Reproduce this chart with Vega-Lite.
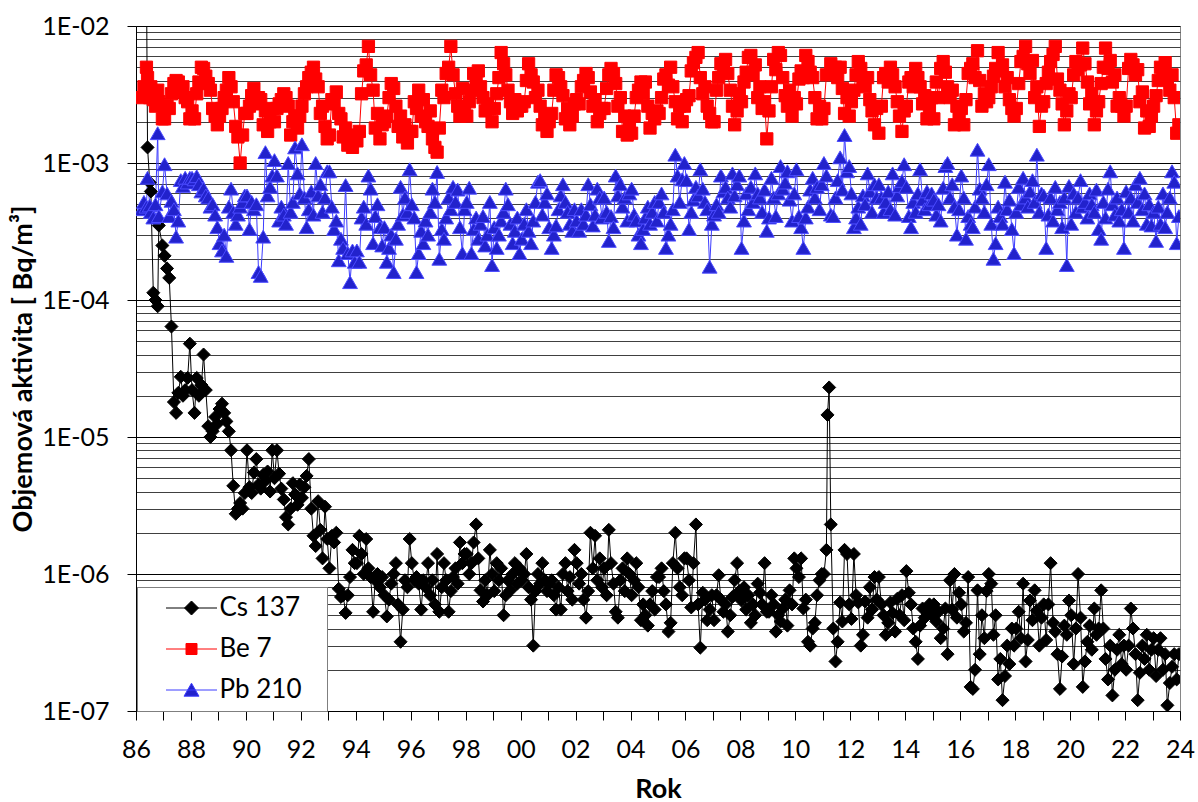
{
  "$schema": "https://vega.github.io/schema/vega-lite/v6.json",
  "width": 1044,
  "height": 685,
  "autosize": {"type": "none"},
  "padding": {"left": 136, "top": 26, "right": 18, "bottom": 91},
  "background": "white",
  "config": {"view": {"stroke": "#868686", "strokeWidth": 1}, "font": "Lato"},
  "data": {"values": [
    {"t":1986.21,"b":3.0e-3,"p":4.6e-4},
    {"t":1986.29,"b":3.6e-3,"p":5.2e-4},
    {"t":1986.38,"c":2.5e-2,"b":5.0e-3,"p":4.8e-4},
    {"t":1986.42,"c":1.3e-3,"b":4.2e-3,"p":7.8e-4},
    {"t":1986.5,"c":7.2e-4,"b":3.0e-3,"p":4.9e-4},
    {"t":1986.54,"c":6.2e-4,"b":3.6e-3,"p":4.4e-4},
    {"t":1986.63,"c":1.13e-4,"b":2.9e-3,"p":4.0e-4},
    {"t":1986.71,"c":1.0e-4,"b":2.6e-3,"p":5.0e-4},
    {"t":1986.79,"c":9.0e-5,"b":3.4e-3,"p":1.65e-3},
    {"t":1986.83,"c":3.5e-4,"b":2.8e-3,"p":4.1e-4},
    {"t":1986.96,"c":2.5e-4,"b":2.1e-3,"p":6.2e-4},
    {"t":1987.04,"c":2.1e-4,"b":2.1e-3,"p":9.8e-4},
    {"t":1987.13,"c":1.7e-4,"b":2.6e-3,"p":6.0e-4},
    {"t":1987.21,"c":1.45e-4,"b":2.5e-3,"p":4.1e-4},
    {"t":1987.29,"c":6.4e-5,"b":3.2e-3,"p":5.3e-4},
    {"t":1987.38,"c":1.8e-5,"b":3.8e-3,"p":4.6e-4},
    {"t":1987.46,"c":1.5e-5,"b":4.0e-3,"p":2.9e-4},
    {"t":1987.54,"c":2.1e-5,"b":3.9e-3,"p":3.8e-4},
    {"t":1987.63,"c":2.75e-5,"b":3.3e-3,"p":7.5e-4},
    {"t":1987.71,"c":2.0e-5,"b":3.6e-3,"p":6.8e-4},
    {"t":1987.79,"c":2.2e-5,"b":3.0e-3,"p":7.8e-4},
    {"t":1987.88,"c":2.7e-5,"b":2.8e-3,"p":7.2e-4},
    {"t":1987.96,"c":4.8e-5,"b":2.1e-3,"p":7.8e-4},
    {"t":1988.04,"c":2.2e-5,"b":2.4e-3,"p":7.8e-4},
    {"t":1988.13,"c":1.5e-5,"b":2.1e-3,"p":7.6e-4},
    {"t":1988.21,"c":2.7e-5,"b":3.2e-3,"p":8.0e-4},
    {"t":1988.29,"c":2.0e-5,"b":3.9e-3,"p":7.0e-4},
    {"t":1988.38,"c":2.4e-5,"b":5.0e-3,"p":6.2e-4},
    {"t":1988.46,"c":4.0e-5,"b":4.9e-3,"p":6.5e-4},
    {"t":1988.54,"c":2.2e-5,"b":4.3e-3,"p":5.8e-4},
    {"t":1988.63,"c":1.2e-5,"b":3.8e-3,"p":5.6e-4},
    {"t":1988.71,"c":1.0e-5,"b":3.4e-3,"p":4.8e-4},
    {"t":1988.79,"c":1.1e-5,"b":2.5e-3,"p":5.0e-4},
    {"t":1988.88,"c":1.4e-5,"b":2.2e-3,"p":4.2e-4},
    {"t":1988.96,"c":1.25e-5,"b":1.9e-3,"p":3.4e-4},
    {"t":1989.04,"c":1.6e-5,"b":2.2e-3,"p":2.6e-4},
    {"t":1989.13,"c":1.75e-5,"b":2.5e-3,"p":2.3e-4},
    {"t":1989.21,"c":1.5e-5,"b":3.0e-3,"p":3.0e-4},
    {"t":1989.29,"c":1.3e-5,"b":3.4e-3,"p":2.1e-4},
    {"t":1989.38,"c":1.1e-5,"b":4.2e-3,"p":4.8e-4},
    {"t":1989.46,"c":8.0e-6,"b":3.6e-3,"p":6.5e-4},
    {"t":1989.54,"c":4.4e-6,"b":2.8e-3,"p":4.4e-4},
    {"t":1989.63,"c":2.75e-6,"b":1.85e-3,"p":3.6e-4},
    {"t":1989.71,"c":3.0e-6,"b":1.55e-3,"p":4.2e-4},
    {"t":1989.79,"c":3.3e-6,"b":1.0e-3,"p":4.8e-4},
    {"t":1989.88,"c":3.0e-6,"b":1.6e-3,"p":5.2e-4},
    {"t":1989.96,"c":3.9e-6,"b":2.3e-3,"p":5.8e-4},
    {"t":1990.04,"c":8.0e-6,"b":2.3e-3,"p":5.8e-4},
    {"t":1990.13,"c":4.3e-6,"b":2.6e-3,"p":3.3e-4},
    {"t":1990.21,"c":3.9e-6,"b":3.1e-3,"p":5.2e-4},
    {"t":1990.29,"c":5.5e-6,"b":3.5e-3,"p":4.6e-4},
    {"t":1990.38,"c":6.9e-6,"b":2.7e-3,"p":5.0e-4},
    {"t":1990.46,"c":4.5e-6,"b":3.0e-3,"p":1.6e-4},
    {"t":1990.54,"c":4.2e-6,"b":2.9e-3,"p":1.5e-4},
    {"t":1990.63,"c":5.3e-6,"b":1.9e-3,"p":2.9e-4},
    {"t":1990.71,"c":4.8e-6,"b":2.4e-3,"p":1.2e-3},
    {"t":1990.79,"c":5.6e-6,"b":1.7e-3,"p":5.8e-4},
    {"t":1990.88,"c":4.0e-6,"b":2.0e-3,"p":6.7e-4},
    {"t":1990.96,"c":8.0e-6,"b":2.5e-3,"p":8.1e-4},
    {"t":1991.04,"c":5.0e-6,"b":2.0e-3,"p":1.05e-3},
    {"t":1991.13,"c":8.0e-6,"b":2.5e-3,"p":8.1e-4},
    {"t":1991.21,"c":5.4e-6,"b":2.7e-3,"p":3.8e-4},
    {"t":1991.29,"c":4.2e-6,"b":2.9e-3,"p":4.8e-4},
    {"t":1991.38,"c":3.5e-6,"b":3.2e-3,"p":4.2e-4},
    {"t":1991.46,"c":2.6e-6,"b":3.0e-3,"p":3.6e-4},
    {"t":1991.54,"c":2.3e-6,"b":2.6e-3,"p":1.0e-3},
    {"t":1991.63,"c":3.0e-6,"b":1.6e-3,"p":4.4e-4},
    {"t":1991.71,"c":4.6e-6,"b":2.0e-3,"p":5.2e-4},
    {"t":1991.79,"c":3.8e-6,"b":2.2e-3,"p":1.3e-3},
    {"t":1991.88,"c":3.2e-6,"b":1.8e-3,"p":8.4e-4},
    {"t":1991.96,"c":4.5e-6,"b":2.2e-3,"p":6.0e-4},
    {"t":1992.04,"c":3.6e-6,"b":2.6e-3,"p":1.37e-3},
    {"t":1992.13,"c":4.3e-6,"b":3.2e-3,"p":5.6e-4},
    {"t":1992.21,"c":5.2e-6,"b":3.6e-3,"p":3.4e-4},
    {"t":1992.29,"c":6.9e-6,"b":4.2e-3,"p":4.6e-4},
    {"t":1992.38,"c":3.0e-6,"b":4.6e-3,"p":6.2e-4},
    {"t":1992.46,"c":1.9e-6,"b":5.0e-3,"p":4.2e-4},
    {"t":1992.54,"c":1.6e-6,"b":4.1e-3,"p":1.0e-3},
    {"t":1992.63,"c":3.4e-6,"b":3.6e-3,"p":5.8e-4},
    {"t":1992.71,"c":2.1e-6,"b":2.3e-3,"p":7.0e-4},
    {"t":1992.79,"c":1.3e-6,"b":2.6e-3,"p":4.4e-4},
    {"t":1992.88,"c":3.1e-6,"b":1.85e-3,"p":5.6e-4},
    {"t":1992.96,"c":1.8e-6,"b":1.5e-3,"p":8.7e-4},
    {"t":1993.04,"c":1.1e-6,"b":1.6e-3,"p":8.7e-4},
    {"t":1993.13,"c":1.9e-6,"b":2.9e-3,"p":4.8e-4},
    {"t":1993.21,"c":1.7e-6,"b":2.7e-3,"p":3.3e-4},
    {"t":1993.29,"c":2.0e-6,"b":3.3e-3,"p":3.8e-4},
    {"t":1993.38,"c":7.8e-7,"b":2.3e-3,"p":1.95e-4},
    {"t":1993.46,"c":6.8e-7,"b":2.1e-3,"p":2.8e-4},
    {"t":1993.54,"c":7.0e-7,"b":1.55e-3,"p":2.4e-4},
    {"t":1993.63,"c":5.2e-7,"b":1.8e-3,"p":6.9e-4},
    {"t":1993.71,"c":7.0e-7,"b":1.35e-3,"p":2.2e-4},
    {"t":1993.79,"c":9.5e-7,"b":1.6e-3,"p":1.35e-4},
    {"t":1993.88,"c":1.5e-6,"b":1.3e-3,"p":2.3e-4},
    {"t":1993.96,"c":1.2e-6,"b":1.5e-3,"p":1.9e-4},
    {"t":1994.04,"c":1.2e-6,"b":1.45e-3,"p":2.3e-4},
    {"t":1994.13,"c":1.9e-6,"b":1.7e-3,"p":1.9e-4},
    {"t":1994.21,"c":1.4e-6,"b":3.2e-3,"p":4.0e-4},
    {"t":1994.29,"c":1.0e-6,"b":4.7e-3,"p":4.8e-4},
    {"t":1994.38,"c":1.8e-6,"b":5.2e-3,"p":3.6e-4},
    {"t":1994.46,"c":1.1e-6,"b":7.1e-3,"p":8.1e-4},
    {"t":1994.54,"c":9.5e-7,"b":4.4e-3,"p":6.5e-4},
    {"t":1994.63,"c":5.3e-7,"b":3.4e-3,"p":2.6e-4},
    {"t":1994.71,"c":9.0e-7,"b":1.8e-3,"p":4.1e-4},
    {"t":1994.79,"c":1.0e-6,"b":2.3e-3,"p":5.0e-4},
    {"t":1994.88,"c":8.0e-7,"b":1.5e-3,"p":3.4e-4},
    {"t":1994.96,"c":9.5e-7,"b":1.9e-3,"p":2.5e-4},
    {"t":1995.04,"c":7.0e-7,"b":2.0e-3,"p":3.4e-4},
    {"t":1995.13,"c":4.9e-7,"b":2.2e-3,"p":1.9e-4},
    {"t":1995.21,"c":6.5e-7,"b":3.0e-3,"p":2.4e-4},
    {"t":1995.29,"c":8.5e-7,"b":3.8e-3,"p":3.0e-4},
    {"t":1995.38,"c":1.0e-6,"b":3.5e-3,"p":1.6e-4},
    {"t":1995.46,"c":1.2e-6,"b":2.6e-3,"p":2.8e-4},
    {"t":1995.54,"c":6.0e-7,"b":1.85e-3,"p":3.6e-4},
    {"t":1995.63,"c":3.2e-7,"b":2.2e-3,"p":6.7e-4},
    {"t":1995.71,"c":5.5e-7,"b":1.55e-3,"p":4.2e-4},
    {"t":1995.79,"c":9.0e-7,"b":1.9e-3,"p":5.6e-4},
    {"t":1995.88,"c":8.0e-7,"b":1.4e-3,"p":4.4e-4},
    {"t":1995.96,"c":1.8e-6,"b":1.7e-3,"p":9.0e-4},
    {"t":1996.04,"c":1.2e-6,"b":1.7e-3,"p":5.0e-4},
    {"t":1996.13,"c":9.0e-7,"b":2.8e-3,"p":4.0e-4},
    {"t":1996.21,"c":9.5e-7,"b":2.5e-3,"p":1.6e-4},
    {"t":1996.29,"c":8.5e-7,"b":3.4e-3,"p":2.2e-4},
    {"t":1996.38,"c":5.5e-7,"b":2.2e-3,"p":3.2e-4},
    {"t":1996.46,"c":9.0e-7,"b":2.9e-3,"p":2.6e-4},
    {"t":1996.54,"c":8.0e-7,"b":2.0e-3,"p":3.8e-4},
    {"t":1996.63,"c":1.2e-6,"b":1.85e-3,"p":3.0e-4},
    {"t":1996.71,"c":7.0e-7,"b":2.4e-3,"p":4.4e-4},
    {"t":1996.79,"c":9.0e-7,"b":1.5e-3,"p":6.5e-4},
    {"t":1996.88,"c":6.0e-7,"b":1.3e-3,"p":5.2e-4},
    {"t":1996.96,"c":1.4e-6,"b":1.2e-3,"p":8.6e-4},
    {"t":1997.04,"c":5.3e-7,"b":1.8e-3,"p":2.0e-4},
    {"t":1997.13,"c":8.0e-7,"b":3.4e-3,"p":3.3e-4},
    {"t":1997.21,"c":1.2e-6,"b":3.0e-3,"p":2.8e-4},
    {"t":1997.29,"c":9.0e-7,"b":4.5e-3,"p":4.0e-4},
    {"t":1997.38,"c":5.3e-7,"b":5.0e-3,"p":5.6e-4},
    {"t":1997.46,"c":7.5e-7,"b":7.1e-3,"p":4.6e-4},
    {"t":1997.54,"c":9.5e-7,"b":4.4e-3,"p":6.7e-4},
    {"t":1997.63,"c":1.1e-6,"b":3.2e-3,"p":5.2e-4},
    {"t":1997.71,"c":8.5e-7,"b":2.6e-3,"p":6.4e-4},
    {"t":1997.79,"c":1.7e-6,"b":2.2e-3,"p":3.4e-4},
    {"t":1997.88,"c":1.2e-6,"b":3.5e-3,"p":2.2e-4},
    {"t":1997.96,"c":1.4e-6,"b":2.4e-3,"p":4.6e-4},
    {"t":1998.04,"c":1.4e-6,"b":2.2e-3,"p":5.2e-4},
    {"t":1998.13,"c":1.0e-6,"b":2.8e-3,"p":6.6e-4},
    {"t":1998.21,"c":1.2e-6,"b":3.4e-3,"p":2.2e-4},
    {"t":1998.29,"c":1.7e-6,"b":4.5e-3,"p":3.3e-4},
    {"t":1998.38,"c":2.3e-6,"b":3.9e-3,"p":4.0e-4},
    {"t":1998.46,"c":1.3e-6,"b":4.7e-3,"p":2.8e-4},
    {"t":1998.54,"c":7.6e-7,"b":3.6e-3,"p":3.6e-4},
    {"t":1998.63,"c":6.3e-7,"b":3.0e-3,"p":4.1e-4},
    {"t":1998.71,"c":9.0e-7,"b":2.4e-3,"p":2.5e-4},
    {"t":1998.79,"c":7.0e-7,"b":2.7e-3,"p":3.0e-4},
    {"t":1998.88,"c":1.5e-6,"b":2.5e-3,"p":5.2e-4},
    {"t":1998.96,"c":1.0e-6,"b":2.0e-3,"p":1.8e-4},
    {"t":1999.04,"c":7.5e-7,"b":2.5e-3,"p":3.4e-4},
    {"t":1999.13,"c":1.2e-6,"b":3.2e-3,"p":2.4e-4},
    {"t":1999.21,"c":9.0e-7,"b":4.2e-3,"p":3.0e-4},
    {"t":1999.29,"c":1.1e-6,"b":6.4e-3,"p":3.8e-4},
    {"t":1999.38,"c":5.0e-7,"b":5.3e-3,"p":4.4e-4},
    {"t":1999.46,"c":7.0e-7,"b":4.4e-3,"p":6.5e-4},
    {"t":1999.54,"c":9.0e-7,"b":3.4e-3,"p":5.0e-4},
    {"t":1999.63,"c":7.6e-7,"b":2.8e-3,"p":3.6e-4},
    {"t":1999.71,"c":1.0e-6,"b":2.3e-3,"p":2.6e-4},
    {"t":1999.79,"c":1.2e-6,"b":2.9e-3,"p":3.2e-4},
    {"t":1999.88,"c":8.5e-7,"b":2.4e-3,"p":4.0e-4},
    {"t":1999.96,"c":1.1e-6,"b":2.6e-3,"p":2.2e-4},
    {"t":2000.04,"c":9.0e-7,"b":2.6e-3,"p":2.8e-4},
    {"t":2000.13,"c":1.0e-6,"b":2.8e-3,"p":3.6e-4},
    {"t":2000.21,"c":1.4e-6,"b":4.0e-3,"p":4.6e-4},
    {"t":2000.29,"c":8.0e-7,"b":5.3e-3,"p":3.2e-4},
    {"t":2000.38,"c":6.5e-7,"b":4.4e-3,"p":2.6e-4},
    {"t":2000.46,"c":3.0e-7,"b":3.9e-3,"p":3.8e-4},
    {"t":2000.54,"c":7.5e-7,"b":3.0e-3,"p":5.2e-4},
    {"t":2000.63,"c":1.0e-6,"b":3.4e-3,"p":7.3e-4},
    {"t":2000.71,"c":8.5e-7,"b":2.6e-3,"p":7.5e-4},
    {"t":2000.79,"c":1.2e-6,"b":1.9e-3,"p":4.2e-4},
    {"t":2000.88,"c":9.0e-7,"b":2.2e-3,"p":5.2e-4},
    {"t":2000.96,"c":7.5e-7,"b":1.7e-3,"p":6.0e-4},
    {"t":2001.04,"c":8.5e-7,"b":2.0e-3,"p":3.4e-4},
    {"t":2001.13,"c":9.0e-7,"b":2.3e-3,"p":2.4e-4},
    {"t":2001.21,"c":7.0e-7,"b":3.4e-3,"p":3.0e-4},
    {"t":2001.29,"c":5.5e-7,"b":4.4e-3,"p":3.5e-4},
    {"t":2001.38,"c":8.0e-7,"b":4.2e-3,"p":4.6e-4},
    {"t":2001.46,"c":5.5e-7,"b":3.6e-3,"p":5.8e-4},
    {"t":2001.54,"c":1.0e-6,"b":3.1e-3,"p":7.0e-4},
    {"t":2001.63,"c":1.2e-6,"b":2.1e-3,"p":5.2e-4},
    {"t":2001.71,"c":7.5e-7,"b":2.5e-3,"p":4.4e-4},
    {"t":2001.79,"c":9.5e-7,"b":1.9e-3,"p":3.6e-4},
    {"t":2001.88,"c":6.5e-7,"b":2.2e-3,"p":3.2e-4},
    {"t":2001.96,"c":1.5e-6,"b":2.7e-3,"p":4.6e-4},
    {"t":2002.04,"c":1.2e-6,"b":2.9e-3,"p":3.8e-4},
    {"t":2002.13,"c":8.5e-7,"b":2.7e-3,"p":3.2e-4},
    {"t":2002.21,"c":1.0e-6,"b":3.6e-3,"p":4.6e-4},
    {"t":2002.29,"c":6.5e-7,"b":4.0e-3,"p":3.6e-4},
    {"t":2002.38,"c":4.8e-7,"b":4.5e-3,"p":4.2e-4},
    {"t":2002.46,"c":7.5e-7,"b":4.2e-3,"p":7.0e-4},
    {"t":2002.54,"c":2.0e-6,"b":3.3e-3,"p":5.0e-4},
    {"t":2002.63,"c":1.1e-6,"b":2.6e-3,"p":3.5e-4},
    {"t":2002.71,"c":1.9e-6,"b":2.9e-3,"p":4.2e-4},
    {"t":2002.79,"c":9.0e-7,"b":2.0e-3,"p":6.5e-4},
    {"t":2002.88,"c":1.3e-6,"b":2.3e-3,"p":5.6e-4},
    {"t":2002.96,"c":8.0e-7,"b":2.5e-3,"p":4.0e-4},
    {"t":2003.04,"c":1.1e-6,"b":2.5e-3,"p":5.6e-4},
    {"t":2003.13,"c":7.0e-7,"b":3.5e-3,"p":4.4e-4},
    {"t":2003.21,"c":2.1e-6,"b":4.4e-3,"p":2.7e-4},
    {"t":2003.29,"c":1.2e-6,"b":4.9e-3,"p":4.1e-4},
    {"t":2003.38,"c":8.5e-7,"b":4.5e-3,"p":3.4e-4},
    {"t":2003.46,"c":5.3e-7,"b":3.8e-3,"p":8.1e-4},
    {"t":2003.54,"c":4.8e-7,"b":2.6e-3,"p":5.8e-4},
    {"t":2003.63,"c":9.0e-7,"b":3.0e-3,"p":7.0e-4},
    {"t":2003.71,"c":1.1e-6,"b":1.7e-3,"p":4.8e-4},
    {"t":2003.79,"c":7.5e-7,"b":2.2e-3,"p":5.6e-4},
    {"t":2003.88,"c":1.3e-6,"b":1.6e-3,"p":3.8e-4},
    {"t":2003.96,"c":1.0e-6,"b":2.0e-3,"p":6.0e-4},
    {"t":2004.04,"c":7.0e-7,"b":1.65e-3,"p":6.5e-4},
    {"t":2004.13,"c":9.0e-7,"b":2.2e-3,"p":4.2e-4},
    {"t":2004.21,"c":1.2e-6,"b":3.0e-3,"p":3.8e-4},
    {"t":2004.29,"c":8.0e-7,"b":3.4e-3,"p":3.0e-4},
    {"t":2004.38,"c":4.6e-7,"b":3.9e-3,"p":2.6e-4},
    {"t":2004.46,"c":6.0e-7,"b":3.2e-3,"p":3.3e-4},
    {"t":2004.54,"c":5.0e-7,"b":3.9e-3,"p":4.0e-4},
    {"t":2004.63,"c":4.2e-7,"b":2.6e-3,"p":4.8e-4},
    {"t":2004.71,"c":6.0e-7,"b":1.8e-3,"p":3.6e-4},
    {"t":2004.79,"c":7.5e-7,"b":2.3e-3,"p":4.4e-4},
    {"t":2004.88,"c":5.5e-7,"b":2.1e-3,"p":5.2e-4},
    {"t":2004.96,"c":9.5e-7,"b":2.4e-3,"p":3.8e-4},
    {"t":2005.04,"c":9.5e-7,"b":2.3e-3,"p":5.2e-4},
    {"t":2005.13,"c":1.1e-6,"b":3.0e-3,"p":6.0e-4},
    {"t":2005.21,"c":7.5e-7,"b":4.1e-3,"p":4.4e-4},
    {"t":2005.29,"c":6.0e-7,"b":4.4e-3,"p":2.4e-4},
    {"t":2005.38,"c":3.8e-7,"b":3.7e-3,"p":3.0e-4},
    {"t":2005.46,"c":4.4e-7,"b":5.0e-3,"p":3.6e-4},
    {"t":2005.54,"c":1.2e-6,"b":3.6e-3,"p":4.6e-4},
    {"t":2005.63,"c":2.0e-6,"b":2.8e-3,"p":1.15e-3},
    {"t":2005.71,"c":1.1e-6,"b":2.1e-3,"p":8.1e-4},
    {"t":2005.79,"c":8.0e-7,"b":2.6e-3,"p":5.2e-4},
    {"t":2005.88,"c":7.0e-7,"b":2.0e-3,"p":7.6e-4},
    {"t":2005.96,"c":1.3e-6,"b":2.6e-3,"p":1.0e-3},
    {"t":2006.04,"c":1.3e-6,"b":2.9e-3,"p":7.5e-4},
    {"t":2006.13,"c":9.0e-7,"b":3.1e-3,"p":3.3e-4},
    {"t":2006.21,"c":5.7e-7,"b":4.7e-3,"p":4.4e-4},
    {"t":2006.29,"c":1.2e-6,"b":5.4e-3,"p":5.4e-4},
    {"t":2006.38,"c":2.3e-6,"b":5.9e-3,"p":6.7e-4},
    {"t":2006.46,"c":6.0e-7,"b":6.4e-3,"p":5.8e-4},
    {"t":2006.54,"c":2.9e-7,"b":4.2e-3,"p":9.0e-4},
    {"t":2006.63,"c":7.3e-7,"b":3.2e-3,"p":6.5e-4},
    {"t":2006.71,"c":6.5e-7,"b":3.6e-3,"p":5.2e-4},
    {"t":2006.79,"c":4.6e-7,"b":2.6e-3,"p":4.6e-4},
    {"t":2006.88,"c":5.5e-7,"b":2.3e-3,"p":1.75e-4},
    {"t":2006.96,"c":7.0e-7,"b":2.0e-3,"p":3.6e-4},
    {"t":2007.04,"c":4.6e-7,"b":2.0e-3,"p":4.2e-4},
    {"t":2007.13,"c":7.0e-7,"b":3.4e-3,"p":5.0e-4},
    {"t":2007.21,"c":9.8e-7,"b":4.2e-3,"p":4.4e-4},
    {"t":2007.29,"c":6.5e-7,"b":5.3e-3,"p":8.1e-4},
    {"t":2007.38,"c":5.3e-7,"b":4.7e-3,"p":6.2e-4},
    {"t":2007.46,"c":6.0e-7,"b":5.7e-3,"p":6.7e-4},
    {"t":2007.54,"c":3.8e-7,"b":4.5e-3,"p":5.6e-4},
    {"t":2007.63,"c":5.0e-7,"b":3.4e-3,"p":4.8e-4},
    {"t":2007.71,"c":6.8e-7,"b":2.6e-3,"p":8.4e-4},
    {"t":2007.79,"c":9.0e-7,"b":1.9e-3,"p":5.8e-4},
    {"t":2007.88,"c":1.2e-6,"b":2.4e-3,"p":7.0e-4},
    {"t":2007.96,"c":7.5e-7,"b":3.2e-3,"p":8.1e-4},
    {"t":2008.04,"c":6.4e-7,"b":2.8e-3,"p":2.4e-4},
    {"t":2008.13,"c":8.0e-7,"b":3.9e-3,"p":3.8e-4},
    {"t":2008.21,"c":5.5e-7,"b":4.6e-3,"p":6.0e-4},
    {"t":2008.29,"c":7.0e-7,"b":5.9e-3,"p":4.6e-4},
    {"t":2008.38,"c":4.4e-7,"b":6.1e-3,"p":6.7e-4},
    {"t":2008.46,"c":6.0e-7,"b":4.4e-3,"p":5.2e-4},
    {"t":2008.54,"c":5.0e-7,"b":5.2e-3,"p":8.4e-4},
    {"t":2008.63,"c":8.5e-7,"b":3.0e-3,"p":6.0e-4},
    {"t":2008.71,"c":7.3e-7,"b":3.6e-3,"p":5.6e-4},
    {"t":2008.79,"c":6.0e-7,"b":2.5e-3,"p":4.4e-4},
    {"t":2008.88,"c":1.2e-6,"b":2.8e-3,"p":6.4e-4},
    {"t":2008.96,"c":5.3e-7,"b":1.5e-3,"p":3.2e-4},
    {"t":2009.04,"c":5.3e-7,"b":2.4e-3,"p":4.0e-4},
    {"t":2009.13,"c":7.0e-7,"b":3.6e-3,"p":7.8e-4},
    {"t":2009.21,"c":6.0e-7,"b":5.7e-3,"p":5.6e-4},
    {"t":2009.29,"c":3.8e-7,"b":4.8e-3,"p":4.1e-4},
    {"t":2009.38,"c":5.0e-7,"b":6.4e-3,"p":6.0e-4},
    {"t":2009.46,"c":4.5e-7,"b":6.1e-3,"p":9.5e-4},
    {"t":2009.54,"c":5.6e-7,"b":4.2e-3,"p":6.5e-4},
    {"t":2009.63,"c":6.5e-7,"b":3.1e-3,"p":7.2e-4},
    {"t":2009.71,"c":4.2e-7,"b":2.6e-3,"p":8.7e-4},
    {"t":2009.79,"c":7.6e-7,"b":3.4e-3,"p":5.4e-4},
    {"t":2009.88,"c":6.0e-7,"b":2.2e-3,"p":3.8e-4},
    {"t":2009.96,"c":1.3e-6,"b":3.0e-3,"p":6.0e-4},
    {"t":2010.04,"c":1.1e-6,"b":2.7e-3,"p":9.0e-4},
    {"t":2010.13,"c":9.5e-7,"b":4.1e-3,"p":4.1e-4},
    {"t":2010.21,"c":1.3e-6,"b":4.7e-3,"p":3.4e-4},
    {"t":2010.29,"c":5.6e-7,"b":4.2e-3,"p":2.4e-4},
    {"t":2010.38,"c":6.5e-7,"b":6.1e-3,"p":4.0e-4},
    {"t":2010.46,"c":3.2e-7,"b":5.5e-3,"p":4.8e-4},
    {"t":2010.54,"c":3.0e-7,"b":4.6e-3,"p":6.4e-4},
    {"t":2010.63,"c":4.0e-7,"b":4.2e-3,"p":7.8e-4},
    {"t":2010.71,"c":4.4e-7,"b":3.0e-3,"p":5.6e-4},
    {"t":2010.79,"c":7.0e-7,"b":2.1e-3,"p":6.7e-4},
    {"t":2010.88,"c":9.0e-7,"b":2.6e-3,"p":4.6e-4},
    {"t":2010.96,"c":1.0e-6,"b":2.1e-3,"p":7.0e-4},
    {"t":2011.04,"c":1.0e-6,"b":2.5e-3,"p":1.0e-3},
    {"t":2011.13,"c":1.5e-6,"b":4.4e-3,"p":8.1e-4},
    {"t":2011.17,"c":1.45e-5},
    {"t":2011.23,"c":2.3e-5},
    {"t":2011.29,"c":2.3e-6,"b":5.3e-3,"p":4.2e-4},
    {"t":2011.38,"c":4.0e-7,"b":4.5e-3,"p":4.1e-4},
    {"t":2011.46,"c":2.3e-7,"b":5.0e-3,"p":5.6e-4},
    {"t":2011.54,"c":3.2e-7,"b":4.2e-3,"p":7.5e-4},
    {"t":2011.63,"c":6.2e-7,"b":5.0e-3,"p":1.1e-3},
    {"t":2011.71,"c":4.5e-7,"b":3.5e-3,"p":6.4e-4},
    {"t":2011.79,"c":1.5e-6,"b":2.3e-3,"p":1.6e-3},
    {"t":2011.88,"c":1.4e-6,"b":3.0e-3,"p":8.7e-4},
    {"t":2011.96,"c":6.0e-7,"b":2.2e-3,"p":9.5e-4},
    {"t":2012.04,"c":4.7e-7,"b":2.8e-3,"p":6.0e-4},
    {"t":2012.13,"c":1.4e-6,"b":3.4e-3,"p":3.4e-4},
    {"t":2012.21,"c":7.0e-7,"b":4.4e-3,"p":4.0e-4},
    {"t":2012.29,"c":6.2e-7,"b":5.5e-3,"p":4.8e-4},
    {"t":2012.38,"c":3.0e-7,"b":4.9e-3,"p":3.6e-4},
    {"t":2012.46,"c":3.6e-7,"b":4.0e-3,"p":5.8e-4},
    {"t":2012.54,"c":6.3e-7,"b":3.6e-3,"p":5.0e-4},
    {"t":2012.63,"c":4.8e-7,"b":4.2e-3,"p":8.4e-4},
    {"t":2012.71,"c":8.0e-7,"b":2.9e-3,"p":6.2e-4},
    {"t":2012.79,"c":5.5e-7,"b":2.4e-3,"p":4.4e-4},
    {"t":2012.88,"c":9.5e-7,"b":1.9e-3,"p":7.0e-4},
    {"t":2012.96,"c":6.5e-7,"b":2.5e-3,"p":5.6e-4},
    {"t":2013.04,"c":9.5e-7,"b":1.65e-3,"p":7.0e-4},
    {"t":2013.13,"c":6.0e-7,"b":2.6e-3,"p":5.6e-4},
    {"t":2013.21,"c":5.0e-7,"b":4.2e-3,"p":4.4e-4},
    {"t":2013.29,"c":3.6e-7,"b":4.5e-3,"p":5.2e-4},
    {"t":2013.38,"c":4.4e-7,"b":3.9e-3,"p":6.2e-4},
    {"t":2013.46,"c":6.2e-7,"b":5.0e-3,"p":4.6e-4},
    {"t":2013.54,"c":5.2e-7,"b":4.4e-3,"p":8.4e-4},
    {"t":2013.63,"c":3.8e-7,"b":3.6e-3,"p":4.2e-4},
    {"t":2013.71,"c":6.6e-7,"b":2.8e-3,"p":5.8e-4},
    {"t":2013.79,"c":5.0e-7,"b":2.2e-3,"p":6.8e-4},
    {"t":2013.88,"c":7.0e-7,"b":1.7e-3,"p":7.4e-4},
    {"t":2013.96,"c":4.6e-7,"b":2.4e-3,"p":9.8e-4},
    {"t":2014.04,"c":1.05e-6,"b":2.6e-3,"p":6.7e-4},
    {"t":2014.13,"c":7.3e-7,"b":3.9e-3,"p":4.1e-4},
    {"t":2014.21,"c":6.0e-7,"b":4.2e-3,"p":3.4e-4},
    {"t":2014.29,"c":4.0e-7,"b":3.6e-3,"p":5.2e-4},
    {"t":2014.38,"c":3.2e-7,"b":4.9e-3,"p":4.4e-4},
    {"t":2014.46,"c":2.4e-7,"b":4.2e-3,"p":6.0e-4},
    {"t":2014.54,"c":4.2e-7,"b":3.6e-3,"p":9.0e-4},
    {"t":2014.63,"c":5.6e-7,"b":2.7e-3,"p":5.4e-4},
    {"t":2014.71,"c":4.8e-7,"b":3.1e-3,"p":4.6e-4},
    {"t":2014.79,"c":5.5e-7,"b":2.1e-3,"p":6.2e-4},
    {"t":2014.88,"c":6.0e-7,"b":2.5e-3,"p":5.0e-4},
    {"t":2014.96,"c":5.0e-7,"b":3.0e-3,"p":6.0e-4},
    {"t":2015.04,"c":6.0e-7,"b":2.1e-3,"p":5.4e-4},
    {"t":2015.13,"c":4.5e-7,"b":3.9e-3,"p":4.2e-4},
    {"t":2015.21,"c":5.3e-7,"b":3.0e-3,"p":5.0e-4},
    {"t":2015.29,"c":3.4e-7,"b":4.9e-3,"p":3.8e-4},
    {"t":2015.38,"c":4.0e-7,"b":5.5e-3,"p":6.6e-4},
    {"t":2015.46,"c":5.6e-7,"b":4.6e-3,"p":9.5e-4},
    {"t":2015.54,"c":2.6e-7,"b":3.6e-3,"p":1.0e-3},
    {"t":2015.63,"c":9.0e-7,"b":3.0e-3,"p":5.6e-4},
    {"t":2015.71,"c":5.5e-7,"b":3.4e-3,"p":7.0e-4},
    {"t":2015.79,"c":1.0e-6,"b":1.9e-3,"p":4.8e-4},
    {"t":2015.88,"c":4.8e-7,"b":2.6e-3,"p":3.0e-4},
    {"t":2015.96,"c":7.3e-7,"b":2.2e-3,"p":4.6e-4},
    {"t":2016.04,"c":6.0e-7,"b":2.5e-3,"p":8.1e-4},
    {"t":2016.13,"c":3.8e-7,"b":1.9e-3,"p":5.6e-4},
    {"t":2016.21,"c":4.4e-7,"b":2.9e-3,"p":2.8e-4},
    {"t":2016.29,"c":9.5e-7,"b":4.5e-3,"p":4.1e-4},
    {"t":2016.38,"c":1.5e-7,"b":4.9e-3,"p":3.6e-4},
    {"t":2016.46,"c":1.45e-7,"b":5.3e-3,"p":3.4e-4},
    {"t":2016.54,"c":2.0e-7,"b":4.2e-3,"p":4.8e-4},
    {"t":2016.63,"c":7.6e-7,"b":6.6e-3,"p":1.25e-3},
    {"t":2016.71,"c":2.6e-7,"b":4.0e-3,"p":6.5e-4},
    {"t":2016.79,"c":5.0e-7,"b":2.6e-3,"p":5.6e-4},
    {"t":2016.88,"c":3.4e-7,"b":3.2e-3,"p":4.4e-4},
    {"t":2016.96,"c":7.5e-7,"b":2.8e-3,"p":7.0e-4},
    {"t":2017.04,"c":1.0e-6,"b":3.0e-3,"p":9.8e-4},
    {"t":2017.13,"c":8.5e-7,"b":3.6e-3,"p":3.6e-4},
    {"t":2017.21,"c":3.6e-7,"b":4.3e-3,"p":2.0e-4},
    {"t":2017.29,"c":5.0e-7,"b":4.9e-3,"p":2.6e-4},
    {"t":2017.38,"c":1.7e-7,"b":6.4e-3,"p":4.8e-4},
    {"t":2017.46,"c":2.4e-7,"b":4.7e-3,"p":4.1e-4},
    {"t":2017.54,"c":1.2e-7,"b":5.2e-3,"p":3.6e-4},
    {"t":2017.63,"c":1.8e-7,"b":3.6e-3,"p":7.3e-4},
    {"t":2017.71,"c":3.0e-7,"b":4.2e-3,"p":4.6e-4},
    {"t":2017.79,"c":2.2e-7,"b":2.9e-3,"p":5.4e-4},
    {"t":2017.88,"c":4.0e-7,"b":2.5e-3,"p":3.3e-4},
    {"t":2017.96,"c":3.0e-7,"b":2.2e-3,"p":2.2e-4},
    {"t":2018.04,"c":4.0e-7,"b":2.5e-3,"p":4.4e-4},
    {"t":2018.13,"c":5.3e-7,"b":3.8e-3,"p":6.7e-4},
    {"t":2018.21,"c":3.4e-7,"b":5.5e-3,"p":5.0e-4},
    {"t":2018.29,"c":8.5e-7,"b":6.0e-3,"p":7.8e-4},
    {"t":2018.38,"c":2.3e-7,"b":7.1e-3,"p":5.6e-4},
    {"t":2018.46,"c":3.3e-7,"b":5.3e-3,"p":4.8e-4},
    {"t":2018.54,"c":6.4e-7,"b":4.5e-3,"p":6.2e-4},
    {"t":2018.63,"c":4.6e-7,"b":5.6e-3,"p":7.5e-4},
    {"t":2018.71,"c":7.6e-7,"b":3.0e-3,"p":5.2e-4},
    {"t":2018.79,"c":5.4e-7,"b":3.6e-3,"p":1.15e-3},
    {"t":2018.88,"c":3.0e-7,"b":1.85e-3,"p":4.4e-4},
    {"t":2018.96,"c":4.8e-7,"b":2.6e-3,"p":6.0e-4},
    {"t":2019.04,"c":6.0e-7,"b":2.8e-3,"p":5.8e-4},
    {"t":2019.13,"c":3.3e-7,"b":3.8e-3,"p":2.4e-4},
    {"t":2019.21,"c":6.0e-7,"b":4.6e-3,"p":4.2e-4},
    {"t":2019.29,"c":1.2e-6,"b":5.5e-3,"p":5.6e-4},
    {"t":2019.38,"c":4.4e-7,"b":6.2e-3,"p":3.8e-4},
    {"t":2019.46,"c":3.8e-7,"b":7.1e-3,"p":6.7e-4},
    {"t":2019.54,"c":2.6e-7,"b":4.1e-3,"p":4.6e-4},
    {"t":2019.63,"c":1.45e-7,"b":3.4e-3,"p":5.2e-4},
    {"t":2019.71,"c":2.5e-7,"b":2.7e-3,"p":3.4e-4},
    {"t":2019.79,"c":4.2e-7,"b":1.9e-3,"p":5.6e-4},
    {"t":2019.88,"c":3.6e-7,"b":2.4e-3,"p":1.8e-4},
    {"t":2019.96,"c":6.4e-7,"b":3.2e-3,"p":6.8e-4},
    {"t":2020.04,"c":5.0e-7,"b":3.0e-3,"p":3.6e-4},
    {"t":2020.13,"c":2.2e-7,"b":4.4e-3,"p":6.0e-4},
    {"t":2020.21,"c":4.0e-7,"b":5.5e-3,"p":4.4e-4},
    {"t":2020.29,"c":1.0e-6,"b":4.8e-3,"p":5.6e-4},
    {"t":2020.38,"c":4.8e-7,"b":5.2e-3,"p":7.5e-4},
    {"t":2020.46,"c":1.5e-7,"b":6.9e-3,"p":4.8e-4},
    {"t":2020.54,"c":2.3e-7,"b":5.3e-3,"p":5.2e-4},
    {"t":2020.63,"c":3.2e-7,"b":3.9e-3,"p":4.0e-4},
    {"t":2020.71,"c":4.2e-7,"b":2.7e-3,"p":6.0e-4},
    {"t":2020.79,"c":2.8e-7,"b":3.2e-3,"p":5.0e-4},
    {"t":2020.88,"c":5.6e-7,"b":1.9e-3,"p":4.4e-4},
    {"t":2020.96,"c":3.6e-7,"b":2.4e-3,"p":6.4e-4},
    {"t":2021.04,"c":4.0e-7,"b":2.8e-3,"p":3.3e-4},
    {"t":2021.13,"c":7.6e-7,"b":3.8e-3,"p":2.8e-4},
    {"t":2021.21,"c":4.0e-7,"b":5.0e-3,"p":5.2e-4},
    {"t":2021.29,"c":2.4e-7,"b":6.9e-3,"p":4.0e-4},
    {"t":2021.38,"c":1.7e-7,"b":4.9e-3,"p":6.5e-4},
    {"t":2021.46,"c":3.0e-7,"b":5.6e-3,"p":8.7e-4},
    {"t":2021.54,"c":1.3e-7,"b":3.9e-3,"p":5.0e-4},
    {"t":2021.63,"c":2.0e-7,"b":4.4e-3,"p":4.2e-4},
    {"t":2021.71,"c":2.8e-7,"b":2.6e-3,"p":5.6e-4},
    {"t":2021.79,"c":3.6e-7,"b":3.0e-3,"p":3.8e-4},
    {"t":2021.88,"c":2.2e-7,"b":2.6e-3,"p":4.6e-4},
    {"t":2021.96,"c":3.0e-7,"b":2.2e-3,"p":2.4e-4},
    {"t":2022.04,"c":2.0e-7,"b":2.6e-3,"p":6.2e-4},
    {"t":2022.13,"c":3.0e-7,"b":4.9e-3,"p":4.4e-4},
    {"t":2022.21,"c":5.6e-7,"b":5.7e-3,"p":5.6e-4},
    {"t":2022.29,"c":4.0e-7,"b":5.2e-3,"p":3.8e-4},
    {"t":2022.38,"c":2.6e-7,"b":4.4e-3,"p":7.0e-4},
    {"t":2022.46,"c":1.2e-7,"b":4.8e-3,"p":5.2e-4},
    {"t":2022.54,"c":1.9e-7,"b":2.8e-3,"p":7.8e-4},
    {"t":2022.63,"c":3.0e-7,"b":3.3e-3,"p":4.6e-4},
    {"t":2022.71,"c":2.4e-7,"b":1.8e-3,"p":6.0e-4},
    {"t":2022.79,"c":3.6e-7,"b":2.4e-3,"p":3.6e-4},
    {"t":2022.88,"c":2.0e-7,"b":1.85e-3,"p":5.0e-4},
    {"t":2022.96,"c":2.8e-7,"b":2.2e-3,"p":3.5e-4},
    {"t":2023.04,"c":3.4e-7,"b":2.6e-3,"p":4.4e-4},
    {"t":2023.13,"c":1.8e-7,"b":3.1e-3,"p":2.7e-4},
    {"t":2023.21,"c":2.8e-7,"b":4.0e-3,"p":4.8e-4},
    {"t":2023.29,"c":3.4e-7,"b":5.0e-3,"p":3.6e-4},
    {"t":2023.38,"c":2.0e-7,"b":4.5e-3,"p":6.0e-4},
    {"t":2023.46,"c":2.6e-7,"b":5.4e-3,"p":3.4e-4},
    {"t":2023.54,"c":1.1e-7,"b":4.1e-3,"p":4.4e-4},
    {"t":2023.63,"c":1.6e-7,"b":3.4e-3,"p":5.6e-4},
    {"t":2023.71,"c":2.1e-7,"b":4.4e-3,"p":8.7e-4},
    {"t":2023.79,"c":2.6e-7,"b":3.0e-3,"p":7.3e-4},
    {"t":2023.88,"c":1.7e-7,"b":1.65e-3,"p":2.6e-4},
    {"t":2023.96,"c":2.6e-7,"b":1.9e-3,"p":4.1e-4}
  ]},
  "transform": [
    {"fold": ["c", "b", "p"], "as": ["s", "v"]},
    {"filter": "isValid(datum.v)"}
  ],
  "encoding": {
    "x": {
      "field": "t",
      "type": "quantitative",
      "scale": {"domain": [1986, 2024], "nice": false, "zero": false},
      "axis": {
        "values": [1986,1987,1988,1989,1990,1991,1992,1993,1994,1995,1996,1997,1998,1999,2000,2001,2002,2003,2004,2005,2006,2007,2008,2009,2010,2011,2012,2013,2014,2015,2016,2017,2018,2019,2020,2021,2022,2023,2024],
        "labelExpr": "datum.value % 2 == 0 ? slice(toString(datum.value), 2) : ''",
        "labelFont": "Lato",
        "labelFontSize": 25,
        "labelColor": "#000000",
        "labelPadding": 17,
        "labelOverlap": false,
        "labelFlush": false,
        "tickColor": "#000000",
        "tickSize": 9,
        "domainColor": "#000000",
        "grid": false,
        "title": "Rok",
        "titleFont": "Lato",
        "titleFontSize": 27,
        "titleFontWeight": "bold",
        "titleColor": "#000000",
        "titlePadding": 14
      }
    },
    "y": {
      "field": "v",
      "type": "quantitative",
      "scale": {"type": "log", "domain": [1e-7, 1e-2], "nice": false},
      "axis": {
        "values": [1e-7,2e-7,3e-7,4e-7,5e-7,6e-7,7e-7,8e-7,9e-7,1e-6,2e-6,3e-6,4e-6,5e-6,6e-6,7e-6,8e-6,9e-6,1e-5,2e-5,3e-5,4e-5,5e-5,6e-5,7e-5,8e-5,9e-5,1e-4,2e-4,3e-4,4e-4,5e-4,6e-4,7e-4,8e-4,9e-4,1e-3,2e-3,3e-3,4e-3,5e-3,6e-3,7e-3,8e-3,9e-3,1e-2],
        "labelExpr": "abs(log(datum.value)/LN10 - round(log(datum.value)/LN10)) < 0.01 ? '1E-0' + (-round(log(datum.value)/LN10)) : ''",
        "labelFont": "Lato",
        "labelFontSize": 25,
        "labelColor": "#000000",
        "labelPadding": 18,
        "labelOverlap": false,
        "tickSize": 9,
        "tickColor": "#000000",
        "tickOpacity": {"condition": {"test": "abs(log(datum.value)/LN10 - round(log(datum.value)/LN10)) < 0.01", "value": 1}, "value": 0},
        "grid": true,
        "gridColor": {"condition": {"test": "abs(log(datum.value)/LN10 - round(log(datum.value)/LN10)) < 0.01", "value": "#000000"}, "value": "#404040"},
        "gridWidth": 1,
        "domainColor": "#000000",
        "title": "Objemová aktivita [ Bq/m³]",
        "titleFont": "Lato",
        "titleFontSize": 27,
        "titleFontWeight": "bold",
        "titleColor": "#000000",
        "titlePadding": 4
      }
    }
  },
  "layer": [
    {
      "mark": {"type": "line", "strokeWidth": 1, "clip": true},
      "encoding": {
        "color": {
          "field": "s",
          "type": "nominal",
          "scale": {"domain": ["c", "b", "p"], "range": ["#000000", "#FF0000", "#3C3CFF"]},
          "legend": {
            "title": "x",
            "titleOrient": "right",
            "titleOpacity": 0,
            "titleFontSize": 12,
            "titlePadding": 11,
            "orient": "none",
            "legendX": 1,
            "legendY": 561,
            "direction": "vertical",
            "fillColor": "#FFFFFF",
            "strokeColor": "#7F7F7F",
            "padding": 8,
            "labelFont": "Lato",
            "labelFontSize": 26,
            "labelColor": "#000000",
            "labelOffset": 15,
            "symbolOffset": 33.5,
            "symbolSize": 400,
            "rowPadding": 15,
            "labelExpr": "datum.label == 'c' ? 'Cs 137' : datum.label == 'b' ? 'Be 7' : 'Pb 210'",
            "encode": {
              "symbols": {
                "update": {
                  "shape": {"signal": "datum.value == 'c' ? 'M-2.55,0H2.55M-0.7,0L0,-0.7L0.7,0L0,0.7Z' : datum.value == 'b' ? 'M-2.55,0H2.55M-0.55,-0.55H0.55V0.55H-0.55Z' : 'M-2.55,0H2.55M0,-0.68L0.75,0.62H-0.75Z'"},
                  "fill": {"signal": "datum.value == 'c' ? '#000000' : datum.value == 'b' ? '#FF0000' : '#2222CC'"},
                  "stroke": {"signal": "datum.value == 'c' ? '#000000' : datum.value == 'b' ? '#FF0000' : '#4B4BFF'"},
                  "strokeWidth": {"value": 1},
                  "size": {"value": 400},
                  "opacity": {"value": 1}
                }
              }
            }
          }
        }
      }
    },
    {
      "transform": [{"filter": "datum.s == 'c'"}],
      "mark": {"type": "point", "shape": "diamond", "size": 170, "filled": true, "fill": "#000000", "stroke": "#000000", "strokeWidth": 1, "opacity": 1, "clip": true}
    },
    {
      "transform": [{"filter": "datum.s == 'b'"}],
      "mark": {"type": "point", "shape": "square", "size": 150, "filled": true, "fill": "#FF0000", "stroke": "#FF0000", "strokeWidth": 1, "opacity": 1, "clip": true}
    },
    {
      "transform": [{"filter": "datum.s == 'p'"}],
      "mark": {"type": "point", "shape": "triangle-up", "size": 220, "filled": true, "fill": "#2222CC", "stroke": "#4B4BFF", "strokeWidth": 1, "opacity": 1, "clip": true}
    }
  ]
}
